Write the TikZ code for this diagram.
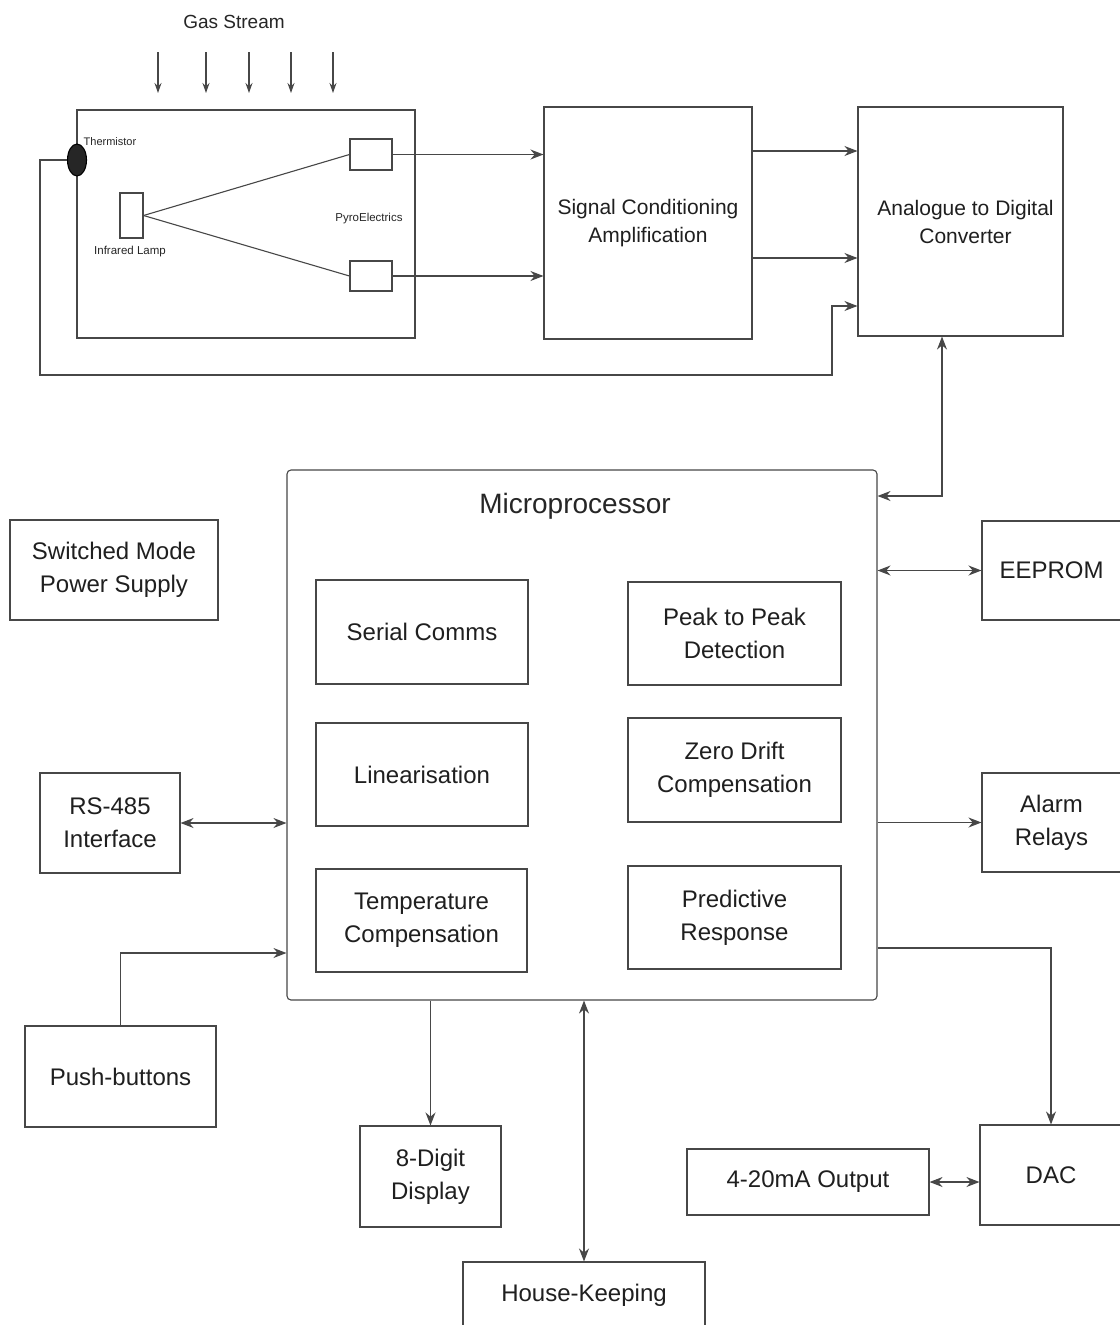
\documentclass[tikz,border=0pt]{standalone}
\usepackage{fontspec}
\setmainfont{Liberation Sans}
\usetikzlibrary{arrows.meta,calc,shapes.geometric}

\begin{document}
\begin{tikzpicture}[x=1pt,y=-1pt,
  line width=1.1pt,
  ink/.style={draw=black!72},
  box/.style={ink,rectangle,inner sep=0pt,align=center,text=black!88,
    font=\fontsize{24}{33}\selectfont},
  smallbox/.style={box,font=\fontsize{21}{28}\selectfont},
  lbl/.style={text=black!85,inner sep=0pt},
  arr/.style={ink,-{Stealth[length=13pt,width=10pt]}},
  biarr/.style={ink,{Stealth[length=13pt,width=10pt]}-{Stealth[length=13pt,width=10pt]}},
  wire/.style={ink}]

\useasboundingbox (0,0) rectangle (1119,1325);
\fill[white] (0,0) rectangle (1119,1325);

% ---- gas stream and sensor cell ----
\node[lbl,font=\fontsize{19}{22}\selectfont] (gas) at (234,22) {Gas Stream};
\foreach \gx [count=\i] in {158,206,249,291,333}{
  \coordinate (gt\i) at (\gx,52);
  \coordinate (gb\i) at (\gx,93);
  \draw[ink,-{Stealth[length=10pt,width=7pt]}] (gt\i) -- (gb\i);
}
\node[box,minimum width=338pt,minimum height=228pt] (cell) at (246,224) {};
\node[ellipse,fill=black!85,draw=black,minimum width=19pt,minimum height=32pt,inner sep=0pt] (therm) at (77,160) {};
\node[lbl,font=\fontsize{11}{12}\selectfont] (thermlbl) at (110,142) {Thermistor};
\node[box,minimum width=23pt,minimum height=45pt] (lamp) at (131.5,215.5) {};
\node[lbl,font=\fontsize{11.5}{12}\selectfont] (lamplbl) at (130,252) {Infrared Lamp};
\node[box,minimum width=42pt,minimum height=31pt] (pyro1) at (371,154.5) {};
\node[box,minimum width=42pt,minimum height=30pt] (pyro2) at (371,276) {};
\node[lbl,font=\fontsize{11.5}{12}\selectfont] (pyrolbl) at (369,219) {PyroElectrics};
\draw[wire] (lamp.east) -- (pyro1.west);
\draw[wire] (lamp.east) -- (pyro2.west);

% ---- signal chain ----
\node[smallbox,minimum width=208pt,minimum height=232pt] (signal) at (648,223) {Signal Conditioning\\Amplification};
\node[smallbox,minimum width=205pt,minimum height=229pt] (adc) at (960.5,221.5) {\hspace*{10pt}Analogue to Digital\\\hspace*{10pt}Converter};

\draw[arr] (pyro1.east) -- (signal.west |- pyro1.east);
\draw[arr] (pyro2.east) -- (signal.west |- pyro2.east);
\draw[arr] ($(signal.east)+(0,-72)$) -- (adc.west |- {$(signal.east)+(0,-72)$});
\draw[arr] ($(signal.east)+(0,35)$) -- (adc.west |- {$(signal.east)+(0,35)$});

% thermistor feedback loop
\coordinate (fb1) at (40,375);
\coordinate (fb2) at (832,375);
\draw[arr] (therm.west) -| (fb1) -- (fb2) |- ($(adc.west)+(0,84.5)$);

% ---- microprocessor ----
\node[box,rounded corners=4pt,minimum width=590pt,minimum height=530pt] (micro) at (582,735) {};
\node[lbl,font=\fontsize{28}{32}\selectfont] (microlbl) at (575,506) {Microprocessor};

\node[box,minimum width=212pt,minimum height=104pt] (serial) at (422,632) {Serial Comms};
\node[box,minimum width=213pt,minimum height=103pt] (peak) at (734.5,633.5) {Peak to Peak\\Detection};
\node[box,minimum width=212pt,minimum height=103pt] (lin) at (422,774.5) {Linearisation};
\node[box,minimum width=213pt,minimum height=104pt] (zero) at (734.5,770) {Zero Drift\\Compensation};
\node[box,minimum width=211pt,minimum height=103pt] (temp) at (421.5,920.5) {Temperature\\Compensation};
\node[box,minimum width=213pt,minimum height=103pt] (pred) at (734.5,917.5) {Predictive\\Response};

% ---- peripherals ----
\node[box,minimum width=208pt,minimum height=100pt] (smps) at (114,570) {Switched Mode\\Power Supply};
\node[box,minimum width=139pt,minimum height=99pt] (eeprom) at (1051.5,570.5) {EEPROM};
\node[box,minimum width=140pt,minimum height=100pt] (rs) at (110,823) {RS-485\\Interface};
\node[box,minimum width=191pt,minimum height=101pt] (push) at (120.5,1076.5) {Push-buttons};
\node[box,minimum width=139pt,minimum height=99pt] (alarm) at (1051.5,822.5) {Alarm\\Relays};
\node[box,minimum width=142pt,minimum height=100pt] (dac) at (1051,1175) {DAC};
\node[box,minimum width=242pt,minimum height=66pt] (out) at (808,1182) {4-20mA Output};
\node[box,minimum width=141pt,minimum height=101pt] (disp) at (430.5,1176.5) {8-Digit\\Display};
\node[box,minimum width=242pt,minimum height=66pt] (house) at (584,1295) {House-Keeping};

% ---- connections ----
\draw[biarr] ($(adc.south)+(-18.5,0)$) |- ($(micro.east)+(0,-239)$);
\draw[biarr] (micro.east |- eeprom.west) -- (eeprom.west);
\draw[arr] (micro.east |- alarm.west) -- (alarm.west);
\draw[biarr] (rs.east) -- (micro.west |- rs.east);
\draw[arr] (push.north) |- ($(micro.west)+(0,218)$);
\draw[arr] ($(micro.east)+(0,213)$) -| (dac.north);
\draw[biarr] (out.east) -- (dac.west |- out.east);
\draw[arr] (disp.north |- micro.south) -- (disp.north);
\draw[biarr] (house.north |- micro.south) -- (house.north);

\end{tikzpicture}
\end{document}
